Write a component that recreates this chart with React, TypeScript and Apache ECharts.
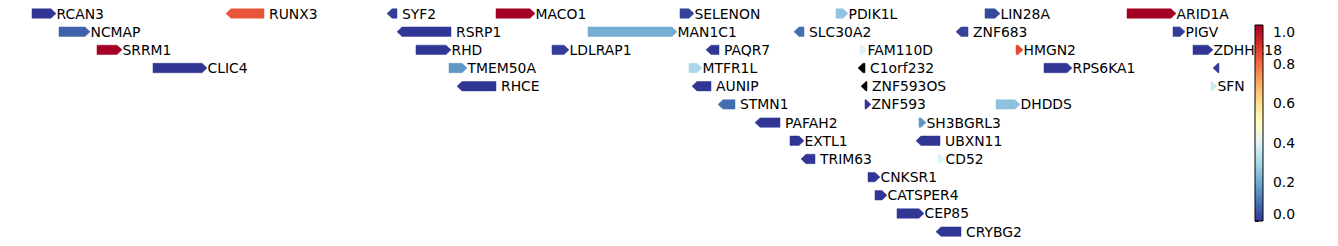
import React, { useEffect, useRef } from "react";
import * as echarts from "echarts";

// Gene track data (positions in track units, rows, strand, score)
const geneNames = [
  "RCAN3", "RUNX3", "SYF2", "MACO1", "SELENON", "PDIK1L", "LIN28A", "ARID1A",
  "NCMAP", "RSRP1", "MAN1C1", "SLC30A2", "ZNF683", "PIGV",
  "SRRM1", "RHD", "LDLRAP1", "PAQR7", "FAM110D", "HMGN2", "ZDHHC18",
  "CLIC4", "TMEM50A", "MTFR1L", "C1orf232", "RPS6KA1", "",
  "RHCE", "AUNIP", "ZNF593OS", "SFN",
  "STMN1", "ZNF593", "DHDDS",
  "PAFAH2", "SH3BGRL3",
  "EXTL1", "UBXN11",
  "TRIM63", "CD52",
  "CNKSR1", "CATSPER4", "CEP85", "CRYBG2",
];
const geneStarts = [
  32, 226, 387, 496, 680, 836, 985, 1127,
  59, 397, 588, 794, 956, 1173,
  97, 416, 552, 706, 860, 1016, 1193,
  153, 449, 689, 858, 1044, 1213,
  457, 692, 861, 1211,
  718, 865, 996,
  755, 919,
  790, 916,
  801, 938,
  868, 875, 897, 936,
];
const geneEnds = [
  56, 264, 397, 535, 694, 848, 1000, 1176,
  90, 451, 677, 804, 968, 1185,
  122, 451, 569, 719, 867, 1023, 1213,
  207, 467, 702, 865, 1072, 1219,
  496, 711, 867, 1217,
  735, 871, 1020,
  780, 926,
  804, 940,
  815, 945,
  880, 887, 924, 961,
];
const geneRows = [
  0, 0, 0, 0, 0, 0, 0, 0,
  1, 1, 1, 1, 1, 1,
  2, 2, 2, 2, 2, 2, 2,
  3, 3, 3, 3, 3, 3,
  4, 4, 4, 4,
  5, 5, 5,
  6, 6,
  7, 7,
  8, 8,
  9, 10, 11, 12,
];
const geneStrands = [
  "+", "-", "-", "+", "+", "+", "+", "+",
  "+", "-", "+", "-", "-", "+",
  "+", "+", "+", "-", "+", "+", "+",
  "+", "+", "+", "-", "+", "-",
  "-", "-", "-", "+",
  "-", "+", "+",
  "-", "+",
  "+", "-",
  "-", "+",
  "+", "+", "+", "-",
];
const geneValues: (number | null)[] = [
  0, 0.84, 0.01, 1, 0.02, 0.25, 0.03, 1,
  0.07, 0, 0.2, 0.09, 0.02, 0.01,
  1, 0, 0.01, 0, 0.4, 0.86, 0,
  0, 0.16, 0.3, null, 0, 0.01,
  0, 0, null, 0.36,
  0.09, 0, 0.245,
  0, 0.16,
  0, 0,
  0, 0.4,
  0, 0, 0, 0,
];
const colorbarTicks = [0, 0.2, 0.4, 0.6, 0.8, 1.0];

// RdYlBu_r colormap
const cmapStops = [
  "#313695", "#4575b4", "#74add1", "#abd9e9", "#e0f3f8", "#ffffbf",
  "#fee090", "#fdae61", "#f46d43", "#d73027", "#a50026",
];

function hexToRgb(h: string) {
  return [parseInt(h.slice(1, 3), 16), parseInt(h.slice(3, 5), 16), parseInt(h.slice(5, 7), 16)];
}
function cmap(v: number | null): string {
  if (v === null || v === undefined || isNaN(v as number)) return "#000000";
  const t = Math.max(0, Math.min(1, v)) * (cmapStops.length - 1);
  const i = Math.min(cmapStops.length - 2, Math.floor(t));
  const f = t - i;
  const a = hexToRgb(cmapStops[i]);
  const b = hexToRgb(cmapStops[i + 1]);
  const c = a.map((x, k) => Math.round(x + (b[k] - x) * f));
  return `rgb(${c[0]},${c[1]},${c[2]})`;
}

const FONT = "DejaVu Sans";
const FS = 13.9;

export default function App() {
  const ref = useRef<HTMLDivElement>(null);
  useEffect(() => {
    if (!ref.current) return;
    const chart = echarts.init(ref.current, undefined, { renderer: "svg" });
    const rowPx = 18.18;
    const yMin = -13.5 / rowPx;
    const yMax = yMin + 246 / rowPx;

    const geneData = geneNames.map((_, i) => [geneStarts[i], geneEnds[i], geneRows[i]]);

    const option: any = {
      animation: false,
      grid: [
        { left: 0, right: 0, top: 0, bottom: 0 },
        { left: 1255, top: 25, width: 8, height: 196 },
      ],
      xAxis: [
        { type: "value", gridIndex: 0, min: 0, max: 1338, show: false },
        { type: "value", gridIndex: 1, min: 0, max: 1, show: false },
      ],
      yAxis: [
        { type: "value", gridIndex: 0, min: yMin, max: yMax, inverse: true, show: false },
        {
          type: "value",
          gridIndex: 1,
          min: 0,
          max: 1,
          interval: 0.2,
          position: "right",
          axisLine: { show: false },
          axisTick: { show: true, length: 3.5, lineStyle: { color: "#000", width: 1 } },
          splitLine: { show: false },
          axisLabel: {
            show: true,
            margin: 10,
            color: "#000",
            fontSize: FS,
            fontFamily: FONT,
            formatter: (v: number) => v.toFixed(1),
            customValues: colorbarTicks,
            verticalAlignMinLabel: "bottom",
            verticalAlignMaxLabel: "top",
          },
        },
      ],
      series: [
        {
          type: "custom",
          xAxisIndex: 0,
          yAxisIndex: 0,
          z: 2,
          clip: false,
          data: geneData,
          renderItem: (params: any, api: any) => {
            const i = params.dataIndex;
            const p0 = api.coord([api.value(0), api.value(2)]);
            const p1 = api.coord([api.value(1), api.value(2)]);
            const x0 = p0[0];
            const x1 = p1[0];
            const yc = p0[1];
            const h = 4.7;
            const w = x1 - x0;
            const head = Math.min(5, w);
            const plus = geneStrands[i] === "+";
            const pts = plus
              ? [[x0, yc - h], [x1 - head, yc - h], [x1, yc], [x1 - head, yc + h], [x0, yc + h]]
              : [[x1, yc - h], [x0 + head, yc - h], [x0, yc], [x0 + head, yc + h], [x1, yc + h]];
            const color = cmap(geneValues[i]);
            return {
              type: "group",
              children: [
                {
                  type: "polygon",
                  shape: { points: pts },
                  style: { fill: color, stroke: color, lineWidth: 0.5 },
                },
                {
                  type: "text",
                  style: {
                    text: geneNames[i],
                    x: x1 + (plus ? 0.5 : 5),
                    y: yc,
                    fill: "#000",
                    fontSize: FS,
                    fontFamily: FONT,
                    verticalAlign: "middle",
                    align: "left",
                  },
                },
              ],
            };
          },
        },
        {
          type: "custom",
          xAxisIndex: 1,
          yAxisIndex: 1,
          z: 10,
          clip: false,
          data: [[0, 0]],
          renderItem: (_params: any, api: any) => {
            const tl = api.coord([0, 1]);
            const br = api.coord([1, 0]);
            return {
              type: "rect",
              shape: { x: tl[0], y: tl[1], width: br[0] - tl[0], height: br[1] - tl[1] },
              style: {
                fill: new echarts.graphic.LinearGradient(
                  0, 1, 0, 0,
                  cmapStops.map((c, k) => ({ offset: k / (cmapStops.length - 1), color: c }))
                ),
                stroke: "#000",
                lineWidth: 1,
              },
            };
          },
        },
      ],
    };
    chart.setOption(option);
    return () => chart.dispose();
  }, []);
  return (
    <div
      ref={ref}
      style={{ position: "fixed", left: 0, top: 0, width: 1338, height: 246, background: "#fff" }}
    />
  );
}
